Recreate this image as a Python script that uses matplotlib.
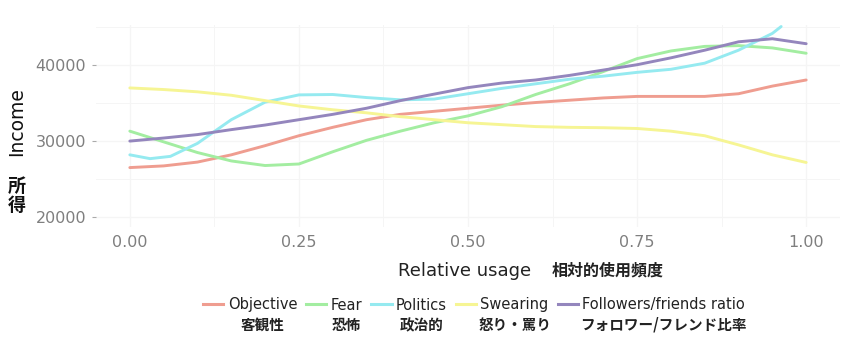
import numpy as np
import matplotlib.pyplot as plt
from matplotlib.lines import Line2D

# values
usage = [0.00, 0.05, 0.10, 0.15, 0.20, 0.25, 0.30, 0.35, 0.40, 0.45, 0.50,
         0.55, 0.60, 0.65, 0.70, 0.75, 0.80, 0.85, 0.90, 0.95, 1.00]
objective = [26530, 26750, 27250, 28200, 29400, 30700, 31800, 32800, 33500, 33900, 34300,
             34700, 35050, 35350, 35650, 35850, 35850, 35850, 36200, 37200, 38000]
fear = [31300, 29900, 28500, 27400, 26800, 27000, 28600, 30100, 31300, 32400, 33300,
        34500, 36100, 37500, 39100, 40800, 41800, 42400, 42500, 42200, 41500]
usage_politics = [0.00, 0.03, 0.06, 0.10, 0.15, 0.20, 0.25, 0.30, 0.35, 0.40, 0.45, 0.50,
                  0.55, 0.60, 0.65, 0.70, 0.75, 0.80, 0.85, 0.90, 0.95, 0.963]
politics = [28200, 27700, 28000, 29700, 32800, 35100, 36050, 36100, 35700, 35400, 35500, 36200,
            36900, 37500, 38100, 38500, 39000, 39400, 40200, 41900, 44100, 45000]
swearing = [36960, 36750, 36450, 36000, 35300, 34600, 34100, 33700, 33200, 32800, 32400,
            32150, 31900, 31800, 31750, 31650, 31300, 30700, 29500, 28200, 27200]
followers = [30000, 30400, 30850, 31500, 32100, 32800, 33500, 34300, 35300, 36150, 37000,
             37600, 38000, 38600, 39300, 40000, 40900, 41900, 43000, 43400, 42750]

names_en = ["Objective", "Fear", "Politics", "Swearing", "Followers/friends ratio"]
names_jp = ["客観性", "恐怖", "政治的", "怒り・罵り", "フォロワー/フレンド比率"]
colors = ["#ef9d90", "#a3eda1", "#95eaf0", "#f6f594", "#9486bd"]

series = [(usage, objective), (usage, fear), (usage_politics, politics),
          (usage, swearing), (usage, followers)]

fig = plt.figure(figsize=(8.6, 3.44), dpi=100)
ax = fig.add_axes([96/860, 1-227/344, (840-96)/860, (227-25)/344])

for (xs, ys), c in zip(series, colors):
    ax.plot(xs, ys, color=c, lw=2.1, solid_capstyle='round')

ax.set_xlim(-0.05, 1.05)
ax.set_ylim(18750, 45200)
ax.set_xticks([0, 0.25, 0.5, 0.75, 1.0])
ax.set_xticklabels(["0.00", "0.25", "0.50", "0.75", "1.00"])
ax.set_yticks([20000, 30000, 40000])
ax.set_yticklabels(["20000", "30000", "40000"])
ax.set_xticks([0.125, 0.375, 0.625, 0.875], minor=True)
ax.set_yticks([25000, 35000, 45000], minor=True)
ax.grid(which='major', color='#f5f5f5', lw=0.9)
ax.grid(which='minor', color='#f5f5f5', lw=0.7)
ax.set_axisbelow(True)
for s in ax.spines.values():
    s.set_visible(False)
ax.tick_params(axis='y', which='major', length=3, color='#aaaaaa', labelsize=11.5,
               labelcolor='#7f7f7f', pad=4)
ax.tick_params(axis='x', which='major', length=0, pad=6, labelsize=11.5, labelcolor='#7f7f7f')
ax.tick_params(which='minor', length=0)

# axis titles
fig.text(465/860, 1-271/344, "Relative usage", ha='center', va='center', fontsize=13, color='#222222')
fig.text(552/860, 1-271/344, "相対的使用頻度", ha='left', va='center', fontsize=11.5,
         family=['Noto Sans CJK JP', 'DejaVu Sans'], weight='bold', color='#222222')
fig.text(17/860, 1-122/344, "Income", rotation=90, ha='center', va='center', fontsize=13.5, color='#111111')
fig.text(17/860, 1-196/344, "所\n得", ha='center', va='center', fontsize=13, linespacing=1.05,
         family=['Noto Sans CJK JP', 'DejaVu Sans'], weight='bold', color='#111111')

# legend
handles = [Line2D([], [], color=c, lw=2.2) for c in colors]
leg = fig.legend(handles, names_en, loc='center', bbox_to_anchor=(474/860, 1-305/344), ncol=5,
                 frameon=False, fontsize=10.5, handlelength=1.4, handletextpad=0.3,
                 columnspacing=0.6, borderpad=0)
plt.setp(leg.get_texts(), color='#222222')

fig.canvas.draw()
for t, jp in zip(leg.get_texts(), names_jp):
    bb = t.get_window_extent()
    cx = (bb.x0 + bb.x1) / 2 / fig.bbox.width
    fig.text(cx, 1-325/344, jp, ha='center', va='center', fontsize=10.5,
             family=['Noto Sans CJK JP', 'DejaVu Sans'], weight='bold', color='#222222')

fig.savefig('out.png', dpi=100)
